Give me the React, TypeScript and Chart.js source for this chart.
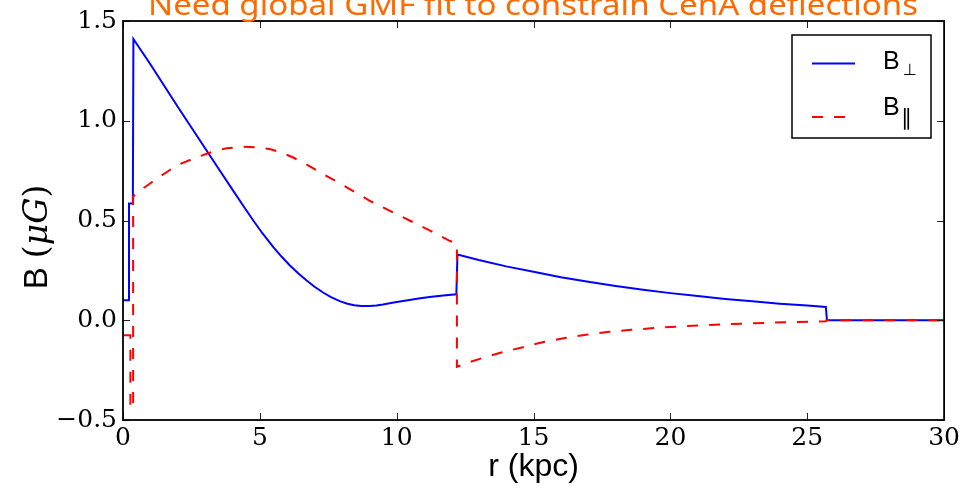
import React, { useEffect, useRef } from "react";
import { Chart, registerables } from "chart.js";

Chart.register(...registerables);

// ---- data (r in kpc, B in microGauss) ----
const blueR = [0, 0.22, 0.22, 0.36, 0.38, 1, 2, 3, 3.5, 4, 4.4, 4.76, 5.1, 5.5, 5.8, 6.09, 6.4, 6.7, 7.0, 7.31, 7.6, 7.92, 8.2, 8.45, 8.71, 9.0, 9.26, 9.5, 9.74, 10.0, 10.35, 10.8, 11.2, 11.7, 12.18, 12.22, 13, 14, 15, 16, 17, 18, 19, 20, 21, 22, 23, 24, 25, 25.68, 25.72, 30];
const blueB = [0.1, 0.1, 0.585, 0.585, 1.41, 1.283, 1.07, 0.862, 0.758, 0.655, 0.573, 0.5, 0.435, 0.365, 0.318, 0.276, 0.236, 0.2, 0.168, 0.139, 0.116, 0.096, 0.083, 0.075, 0.071, 0.071, 0.074, 0.079, 0.085, 0.091, 0.099, 0.109, 0.117, 0.124, 0.13, 0.33, 0.302, 0.27, 0.243, 0.216, 0.193, 0.172, 0.153, 0.136, 0.121, 0.107, 0.095, 0.083, 0.074, 0.067, 0, 0];

const redR = [0, 0.27, 0.27, 0.37, 0.37, 0.62, 1.0, 1.35, 1.7, 2.08, 2.6, 3.11, 3.45, 3.78, 4.39, 4.9, 5.36, 5.8, 6.2, 6.7, 7.31, 8, 9.0, 9.7, 10.47, 11.2, 11.9, 12.2, 12.2, 12.66, 13.2, 13.82, 14.61, 15.4, 16.19, 16.98, 17.77, 18.56, 19.42, 20.2, 21, 22.58, 24.16, 25.68, 25.7, 30];
const redB = [-0.075, -0.075, -0.44, -0.44, 0.62, 0.65, 0.687, 0.72, 0.752, 0.783, 0.812, 0.837, 0.851, 0.862, 0.87, 0.867, 0.858, 0.84, 0.817, 0.782, 0.733, 0.68, 0.6, 0.552, 0.5, 0.451, 0.4, 0.383, -0.233, -0.21, -0.186, -0.162, -0.135, -0.108, -0.088, -0.072, -0.058, -0.048, -0.039, -0.032, -0.026, -0.017, -0.01, -0.005, 0, 0];

const xTicksStep = 5;
const yTicksStep = 0.5;
const xRange = [0, 30];
const yRange = [-0.5, 1.5];

const titleText = "Need global GMF fit to constrain CenA deflections";
const xTitle = "r (kpc)";
const seriesLabels = ["B⊥", "B∥"];

const BLUE = "#0000ff";
const RED = "#ff0000";
const DASH = [11, 11];

const decor = {
  id: "decor",
  afterDraw(chart: any) {
    const { ctx, chartArea: ca, scales } = chart;
    const xs = scales.x;
    const ys = scales.y;
    ctx.save();
    // ticks inward on all sides
    ctx.strokeStyle = "#222";
    ctx.lineWidth = 1;
    const tl = 7;
    ctx.beginPath();
    xs.ticks.forEach((t: any) => {
      const px = Math.round(xs.getPixelForValue(t.value)) + 0.5;
      ctx.moveTo(px, ca.bottom);
      ctx.lineTo(px, ca.bottom - tl);
      ctx.moveTo(px, ca.top);
      ctx.lineTo(px, ca.top + tl);
    });
    ys.ticks.forEach((t: any) => {
      const py = Math.round(ys.getPixelForValue(t.value)) + 0.5;
      ctx.moveTo(ca.left, py);
      ctx.lineTo(ca.left + tl, py);
      ctx.moveTo(ca.right, py);
      ctx.lineTo(ca.right - tl, py);
    });
    ctx.stroke();
    // frame
    ctx.strokeStyle = "#000";
    ctx.lineWidth = 1.8;
    ctx.strokeRect(ca.left, ca.top, ca.right - ca.left, ca.bottom - ca.top);

    // x title
    ctx.fillStyle = "#000";
    ctx.font = "32px 'Liberation Sans'";
    ctx.textAlign = "center";
    ctx.textBaseline = "alphabetic";
    ctx.fillText(xTitle, (ca.left + ca.right) / 2, 476);

    // y title (mixed fonts)
    const parts: [string, string][] = [
      ["B ", "33px 'Liberation Sans'"],
      ["(", "33px 'DejaVu Serif'"],
      ["μG", "italic 33px 'DejaVu Serif'"],
      [")", "33px 'DejaVu Serif'"],
    ];
    let total = 0;
    const widths = parts.map(([t, f]) => {
      ctx.font = f;
      const w = ctx.measureText(t).width;
      total += w;
      return w;
    });
    ctx.save();
    ctx.translate(47, 237);
    ctx.rotate(-Math.PI / 2);
    ctx.textAlign = "left";
    let cx = -total / 2;
    parts.forEach(([t, f], i) => {
      ctx.font = f;
      ctx.fillText(t, cx, 0);
      cx += widths[i];
    });
    ctx.restore();

    // title (clipped at top)
    ctx.save();
    ctx.fillStyle = "#ff6a00";
    ctx.textAlign = "center";
    ctx.font = "400 29px 'Noto Sans'";
    const w0 = ctx.measureText(titleText).width;
    const sx = 770 / w0;
    ctx.translate(533, 15);
    ctx.scale(sx, 1);
    ctx.fillText(titleText, 0, 0);
    ctx.restore();

    // legend
    const lx = 792, ly = 35, lw = 139, lh = 103;
    ctx.fillStyle = "#fff";
    ctx.fillRect(lx, ly, lw, lh);
    ctx.strokeStyle = "#000";
    ctx.lineWidth = 1.5;
    ctx.strokeRect(lx, ly, lw, lh);
    ctx.lineWidth = 2;
    ctx.strokeStyle = BLUE;
    ctx.beginPath();
    ctx.moveTo(812, 63.5);
    ctx.lineTo(855, 63.5);
    ctx.stroke();
    ctx.strokeStyle = RED;
    ctx.setLineDash(DASH);
    ctx.beginPath();
    ctx.moveTo(812, 117);
    ctx.lineTo(855, 117);
    ctx.stroke();
    ctx.setLineDash([]);
    ctx.fillStyle = "#000";
    ctx.textAlign = "left";
    ctx.font = "25px 'Liberation Sans'";
    ctx.fillText(seriesLabels[0].charAt(0), 883, 69);
    ctx.fillText(seriesLabels[1].charAt(0), 883, 115);
    ctx.font = "16px 'DejaVu Sans'";
    ctx.fillText(seriesLabels[0].slice(1), 903, 75);
    ctx.font = "22px 'DejaVu Sans'";
    ctx.fillText(seriesLabels[1].slice(1), 901, 125);
    ctx.restore();
  },
};

export default function App() {
  const ref = useRef<HTMLCanvasElement>(null);
  useEffect(() => {
    const blueData = blueR.map((r, i) => ({ x: r, y: blueB[i] }));
    const redData = redR.map((r, i) => ({ x: r, y: redB[i] }));
    const fmt = (v: number) => v.toFixed(1).replace("-", "−");
    const chart = new Chart(ref.current as HTMLCanvasElement, {
      type: "line",
      data: {
        datasets: [
          {
            label: seriesLabels[0],
            data: blueData,
            borderColor: BLUE,
            borderWidth: 2,
            pointRadius: 0,
            tension: 0,
            fill: false,
            order: 1,
          },
          {
            label: seriesLabels[1],
            data: redData,
            borderColor: RED,
            borderWidth: 2,
            borderDash: DASH,
            pointRadius: 0,
            tension: 0,
            fill: false,
            order: 0,
          },
        ],
      },
      options: {
        animation: false,
        responsive: false,
        devicePixelRatio: 1,
        layout: { padding: { left: 0, right: 18, top: 20, bottom: 0 } },
        plugins: { legend: { display: false }, tooltip: { enabled: false } },
        scales: {
          x: {
            type: "linear",
            min: xRange[0],
            max: xRange[1],
            grid: { display: false, drawTicks: false },
            border: { display: false },
            ticks: {
              stepSize: xTicksStep,
              color: "#000",
              font: { family: "DejaVu Serif", size: 25 },
              padding: 3,
              maxRotation: 0,
              autoSkip: false,
              callback: (v: any) => String(v),
            },
            afterFit: (s: any) => {
              s.height = 70;
            },
          },
          y: {
            type: "linear",
            min: yRange[0],
            max: yRange[1],
            grid: { display: false, drawTicks: false },
            border: { display: false },
            ticks: {
              stepSize: yTicksStep,
              color: "#000",
              font: { family: "DejaVu Serif", size: 25 },
              padding: 6,
              autoSkip: false,
              callback: (v: any) => fmt(Number(v)),
            },
            afterFit: (s: any) => {
              s.width = 123;
            },
          },
        },
      },
      plugins: [decor],
    } as any);
    return () => chart.destroy();
  }, []);
  return (
    <div style={{ position: "absolute", left: 0, top: 0, width: 963, height: 490, background: "#fff" }}>
      <canvas ref={ref} width={963} height={490} style={{ width: 963, height: 490, display: "block" }} />
    </div>
  );
}
